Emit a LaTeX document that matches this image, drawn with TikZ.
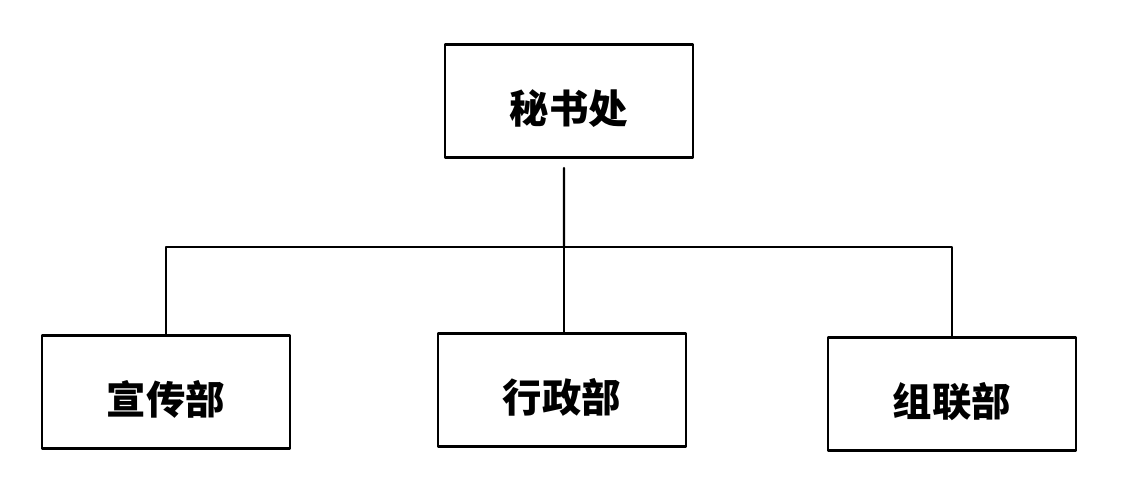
\documentclass[tikz,border=0pt]{standalone}
\usepackage{fontspec}
\newfontfamily\cjk{Noto Sans CJK SC}
\begin{document}
\begin{tikzpicture}[x=0.025cm, y=-0.025cm, line cap=round, line join=round,
    dept/.style={draw, line width=2pt, rectangle, minimum width=6.2cm,
      minimum height=2.82cm, inner sep=0pt, text height=1.2cm, text depth=0.06cm,
      font=\cjk\bfseries\fontsize{28}{28}\selectfont},
    link/.style={line width=1.5pt}]
  \useasboundingbox (0,0) rectangle (1127,495);
  \node[dept] (secretariat) at (569,101) {秘书处};
  \node[dept] (publicity) at (166,392) {宣传部};
  \node[dept] (admin) at (562,390) {行政部};
  \node[dept] (liaison) at (952,394) {组联部};
  \coordinate (hub) at (564,247);
  \draw[link] ([xshift=-0.125cm,yshift=-0.23cm]secretariat.south) -- (hub);
  \draw[link] (publicity.north) |- (hub) -| (liaison.north);
  \draw[link] (hub) -- (hub |- admin.north);
\end{tikzpicture}
\end{document}
